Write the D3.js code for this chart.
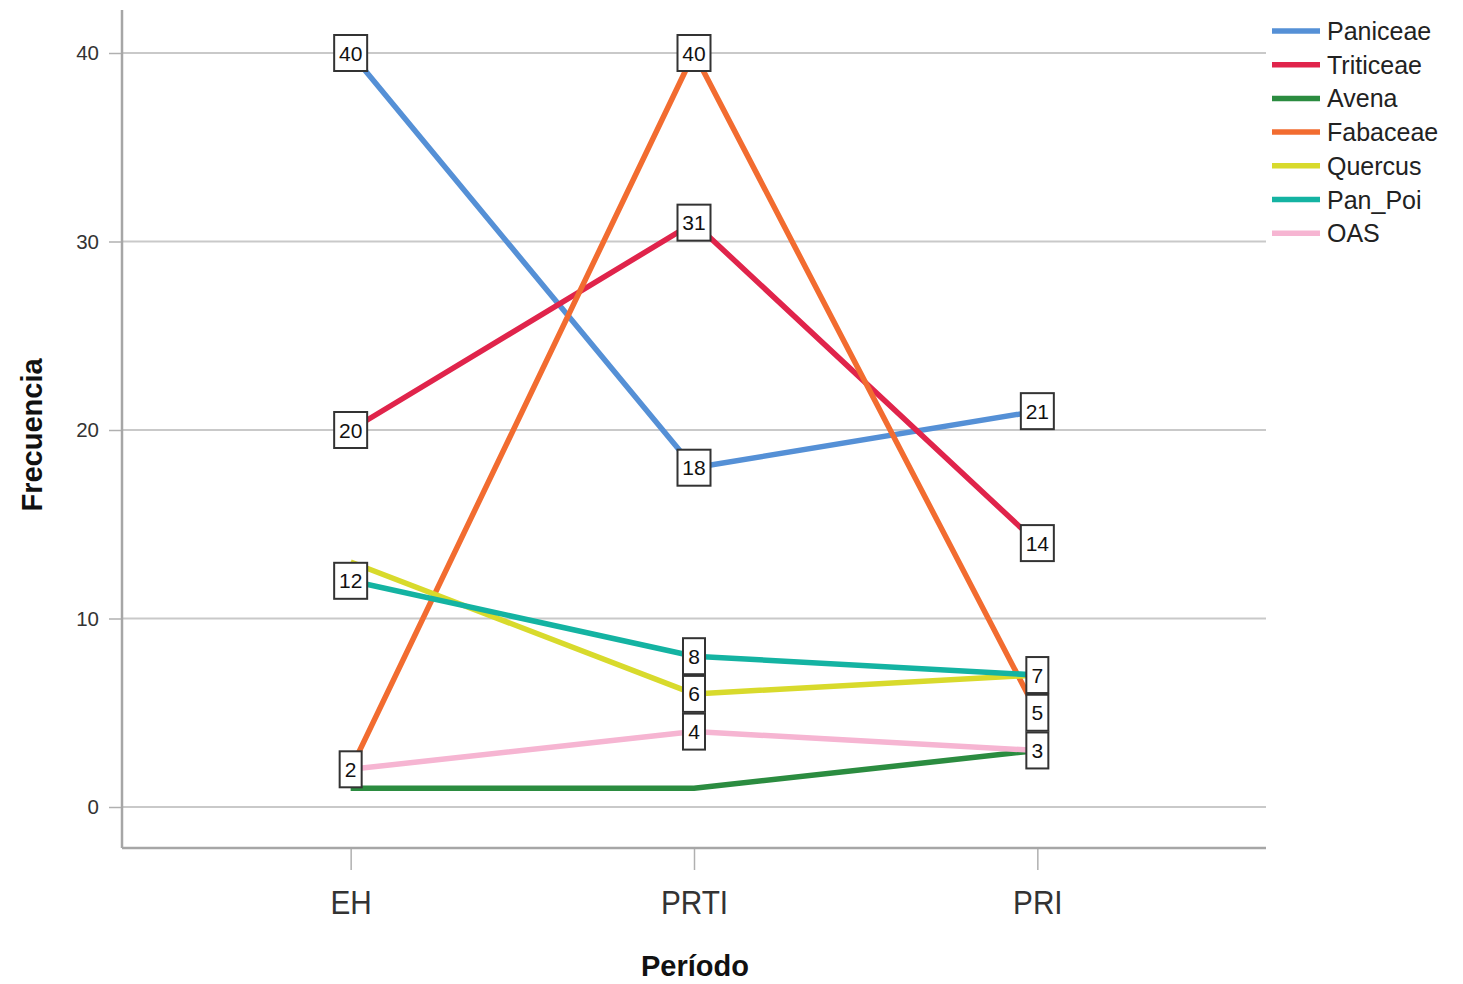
<!DOCTYPE html>
<html>
<head>
<meta charset="utf-8">
<script src="https://cdn.jsdelivr.net/npm/d3@7"></script>
<style>
  html, body { margin: 0; padding: 0; background: #fff; }
  text { font-family: "Liberation Sans", Arial, sans-serif; }
</style>
</head>
<body>
<svg id="chart" width="1463" height="984"></svg>
<script>
// ---- data ----
const categories = ["EH", "PRTI", "PRI"];
const seriesNames = ["Paniceae", "Triticeae", "Avena", "Fabaceae", "Quercus", "Pan_Poi", "OAS"];
const paniceae  = [40, 18, 21];
const triticeae = [20, 31, 14];
const avena     = [1, 1, 3];
const fabaceae  = [2, 40, 5];
const quercus   = [13, 6, 7];
const panPoi    = [12, 8, 7];
const oas       = [2, 4, 3];
// which point labels are displayed (1 = shown)
const paniceaeLabels  = [1, 1, 1];
const triticeaeLabels = [1, 1, 1];
const avenaLabels     = [0, 0, 0];
const fabaceaeLabels  = [1, 1, 1];
const quercusLabels   = [0, 1, 0];
const panPoiLabels    = [1, 1, 1];
const oasLabels       = [0, 1, 1];
const yTicks = [0, 10, 20, 30, 40];
const colors = ["#5590d6", "#e0244b", "#2b8c40", "#f26c30", "#d8da2c", "#14b3a2", "#f6b5d2"];

const seriesValues = [paniceae, triticeae, avena, fabaceae, quercus, panPoi, oas];
const seriesLabels = [paniceaeLabels, triticeaeLabels, avenaLabels, fabaceaeLabels, quercusLabels, panPoiLabels, oasLabels];
const series = seriesNames.map((n, i) => ({ name: n, values: seriesValues[i], labels: seriesLabels[i], color: colors[i] }));

// ---- layout ----
const svg = d3.select("#chart");
const mLeft = 122, mRight = 1266, mTop = 10, mBottom = 848;

const x = d3.scalePoint().domain(categories).range([mLeft, mRight]).padding(0.666);
const y = d3.scaleLinear().domain([0, 40]).range([807, 53]);

// gridlines
svg.append("g").selectAll("line").data(yTicks).join("line")
  .attr("x1", mLeft).attr("x2", mRight)
  .attr("y1", d => y(d)).attr("y2", d => y(d))
  .attr("stroke", "#c9c9c9").attr("stroke-width", 2);

// y axis
const yAxis = svg.append("g").attr("transform", `translate(${mLeft},0)`)
  .call(d3.axisLeft(y).tickValues(yTicks).tickSize(13).tickPadding(10).tickFormat(d3.format("d")));
yAxis.select(".domain").remove();
yAxis.selectAll(".tick line").attr("stroke", "#b0b0b0").attr("stroke-width", 1.5);
yAxis.selectAll(".tick text").attr("font-size", 20.5).attr("fill", "#333")
  .attr("font-family", "'Liberation Sans', Arial, sans-serif");

// x axis
const xAxis = svg.append("g").attr("transform", `translate(0,${mBottom})`)
  .call(d3.axisBottom(x).tickSize(22).tickPadding(14));
xAxis.select(".domain").remove();
xAxis.selectAll(".tick line").attr("stroke", "#b0b0b0").attr("stroke-width", 1.5);
xAxis.selectAll(".tick text").attr("font-size", 31).attr("fill", "#333")
  .attr("font-family", "'Liberation Sans', Arial, sans-serif")
  .attr("y", 60).attr("dy", 0)
  .attr("transform", "scale(0.96,1.1)");

// axis lines
svg.append("line").attr("x1", mLeft).attr("x2", mLeft).attr("y1", mTop).attr("y2", mBottom)
  .attr("stroke", "#a6a6a6").attr("stroke-width", 2.5);
svg.append("line").attr("x1", mLeft).attr("x2", mRight).attr("y1", mBottom).attr("y2", mBottom)
  .attr("stroke", "#a6a6a6").attr("stroke-width", 2.5);

// lines
const line = d3.line().x((d, i) => x(categories[i])).y(d => y(d));
svg.append("g").selectAll("path").data(series).join("path")
  .attr("d", d => line(d.values))
  .attr("fill", "none")
  .attr("stroke", d => d.color)
  .attr("stroke-width", 5.5)
  .attr("stroke-linejoin", "round");

// point labels
const labelData = [];
series.forEach(s => s.values.forEach((v, i) => {
  if (s.labels[i]) labelData.push({ cat: categories[i], v });
}));
const lg = svg.append("g").selectAll("g").data(labelData).join("g")
  .attr("transform", d => `translate(${x(d.cat)},${y(d.v)})`);
lg.append("rect")
  .attr("x", d => -(String(d.v).length > 1 ? 16.5 : 11))
  .attr("width", d => String(d.v).length > 1 ? 33 : 22)
  .attr("y", -18).attr("height", 36)
  .attr("fill", "#fff").attr("stroke", "#333").attr("stroke-width", 2);
lg.append("text").text(d => d.v)
  .attr("text-anchor", "middle").attr("dy", "0.36em")
  .attr("font-size", 21).attr("fill", "#111");

// legend
const leg = svg.append("g").selectAll("g").data(series).join("g")
  .attr("transform", (d, i) => `translate(1272,${31 + i * 33.7})`);
leg.append("line").attr("x1", 0).attr("x2", 48).attr("y1", 0).attr("y2", 0)
  .attr("stroke", d => d.color).attr("stroke-width", 5.5);
leg.append("text").text(d => d.name).attr("x", 55).attr("dy", "0.36em")
  .attr("font-size", 25).attr("fill", "#222");

// axis titles
svg.append("text").text("Período").attr("x", 695).attr("y", 976)
  .attr("text-anchor", "middle").attr("font-size", 29).attr("font-weight", "bold").attr("fill", "#111");
svg.append("text").text("Frecuencia")
  .attr("transform", "translate(42,435) rotate(-90)")
  .attr("text-anchor", "middle").attr("font-size", 29).attr("font-weight", "bold").attr("fill", "#111");
</script>
</body>
</html>
